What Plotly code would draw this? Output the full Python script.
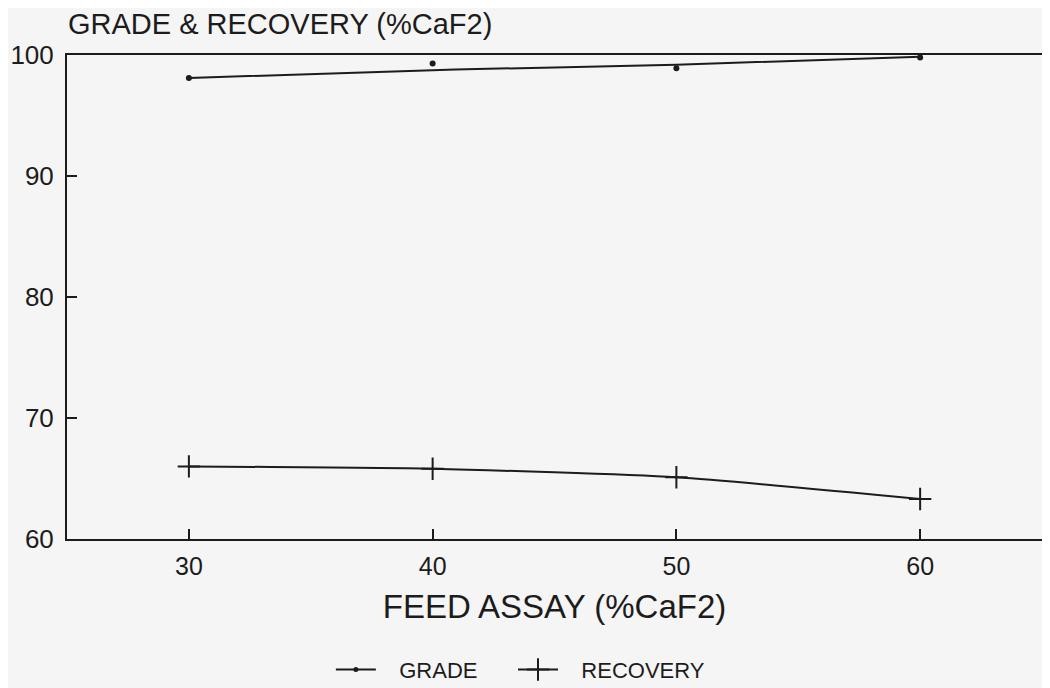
import plotly.graph_objects as go

feed_assay = [30, 40, 50, 60]
grade_points = [98.1, 99.3, 98.9, 99.8]
grade_curve = [98.1, 98.75, 99.2, 99.85]
recovery = [66.0, 65.8, 65.1, 63.3]

x_ticks = [30, 40, 50, 60]
y_ticks = [60, 70, 80, 90, 100]

INK = "#1c1c1c"
PAPER = "#f5f5f5"
FONT = "Liberation Sans"
NB = "\u00a0"

fig = go.Figure()

# grade smoothed curve
fig.add_trace(go.Scatter(
    x=feed_assay, y=grade_curve, mode="lines",
    line=dict(color=INK, width=2, shape="spline"),
    showlegend=False, hoverinfo="skip"))
# grade measured points
fig.add_trace(go.Scatter(
    x=feed_assay, y=grade_points, mode="markers",
    marker=dict(color=INK, size=6, symbol="circle"),
    showlegend=False))
# recovery
fig.add_trace(go.Scatter(
    x=feed_assay, y=recovery, mode="lines+markers",
    line=dict(color=INK, width=2, shape="spline", smoothing=0.6),
    marker=dict(symbol="cross-thin", size=16, line=dict(color=INK, width=2)),
    showlegend=False))

# legend entries
fig.add_trace(go.Scatter(
    x=[None], y=[None], mode="lines+markers", name=NB * 3 + "GRADE" + NB * 5,
    line=dict(color=INK, width=2),
    marker=dict(color=INK, size=5, symbol="circle")))
fig.add_trace(go.Scatter(
    x=[None], y=[None], mode="lines+markers", name=NB * 3 + "RECOVERY",
    line=dict(color=INK, width=2),
    marker=dict(symbol="cross-thin", size=16, line=dict(color=INK, width=2))))

# the page adds an 8px body margin at left/top, so the figure is sized to fit
fig.update_layout(
    width=1042, height=680,
    margin=dict(l=59, r=8, t=47, b=149, autoexpand=False),
    paper_bgcolor=PAPER, plot_bgcolor=PAPER,
    font=dict(family=FONT, color=INK),
    showlegend=True,
    legend=dict(orientation="h", x=0.465, xanchor="center",
                yref="container", y=0.027, yanchor="middle",
                font=dict(size=22, family=FONT, color=INK), bgcolor="rgba(0,0,0,0)",
                itemwidth=40, tracegroupgap=0),
    xaxis=dict(range=[25, 65], tickvals=x_ticks, ticktext=[str(v) for v in x_ticks],
               ticks="inside", ticklen=10, tickwidth=2, tickcolor=INK,
               showline=True, linecolor=INK, linewidth=2, mirror=True,
               showgrid=False, zeroline=False, automargin=False,
               tickfont=dict(size=25, family=FONT, color=INK), ticklabelstandoff=4,
               title=dict(text="FEED ASSAY (%CaF2)", font=dict(size=33, family=FONT, color=INK),
                          standoff=16)),
    yaxis=dict(range=[60, 100], tickvals=y_ticks, ticktext=[str(v) for v in y_ticks],
               ticks="inside", ticklen=10, tickwidth=2, tickcolor=INK,
               showline=True, linecolor=INK, linewidth=2, mirror=True,
               showgrid=False, zeroline=False, automargin=False,
               tickfont=dict(size=26, family=FONT, color=INK), ticklabelstandoff=6),
    annotations=[dict(text="GRADE &amp; RECOVERY (%CaF2)", xref="paper", yref="paper",
                      x=0, y=1, xanchor="left", yanchor="bottom", yshift=13, xshift=-1,
                      showarrow=False,
                      font=dict(size=29, family=FONT, color=INK))],
)

fig.write_html("out.html")
